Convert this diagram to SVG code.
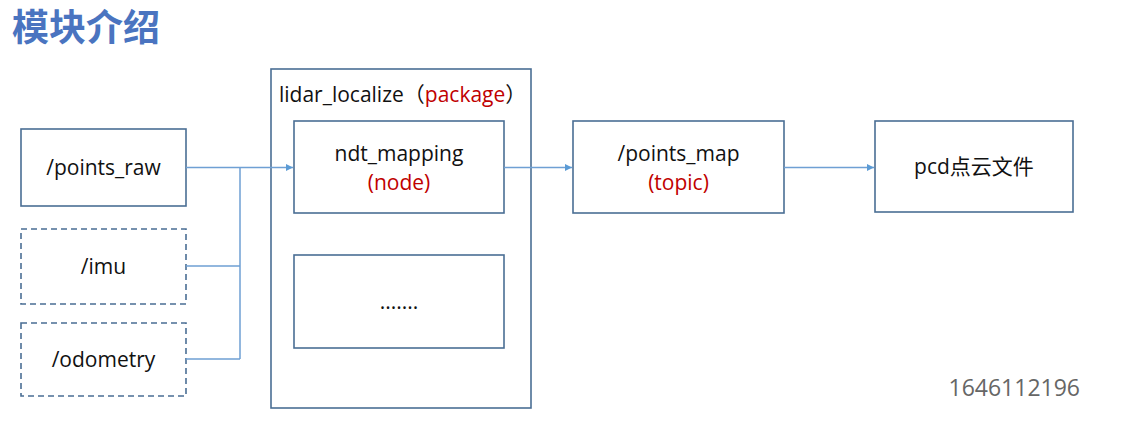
<svg xmlns="http://www.w3.org/2000/svg" width="1140" height="447" viewBox="0 0 1140 447">
<style>
.box{fill:#fff;stroke:#4a6e94;stroke-width:1.6}
.dash{fill:#fff;stroke:#4a6e94;stroke-width:1.6;stroke-dasharray:6 4}
.t{font-family:"Open Sans","Noto Sans CJK SC",sans-serif;font-size:21px;fill:#111;text-anchor:middle}
.r{fill:#c00000}
.c{stroke:#6fa0d4;stroke-width:1.5;fill:none}
</style>
<defs>
<marker id="ah" viewBox="0 0 10 10" refX="10" refY="5" markerWidth="7" markerHeight="7" markerUnits="userSpaceOnUse" orient="auto">
<path d="M0,0 L10,5 L0,10 z" fill="#5b9bd5"/>
</marker>
</defs>
<rect width="1140" height="447" fill="#fff"/>
<text x="12" y="41" style="font-family:'Noto Sans CJK SC',sans-serif;font-size:37px;font-weight:bold;fill:#4a74c0">模块介绍</text>
<g id="pkg">
<rect class="box" x="271" y="69" width="260" height="339"/>
<text x="279" y="102" style="font-family:'Open Sans','Noto Sans CJK SC',sans-serif;font-size:21px;fill:#111">lidar_localize（<tspan class="r">package</tspan>）</text>
</g>
<g id="points_raw">
<rect class="box" x="21" y="129" width="165" height="77"/>
<text class="t" x="103.5" y="175">/points_raw</text>
</g>
<g id="imu">
<rect class="dash" x="21" y="229" width="165" height="75"/>
<text class="t" x="103.5" y="274">/imu</text>
</g>
<g id="odometry">
<rect class="dash" x="21" y="323" width="165" height="73"/>
<text class="t" x="103.5" y="367">/odometry</text>
</g>
<g id="ndt_mapping">
<rect class="box" x="294" y="121" width="210" height="92"/>
<text class="t" x="399" y="161">ndt_mapping</text>
<text class="t r" x="399" y="190">(node)</text>
</g>
<g id="other">
<rect class="box" x="294" y="255" width="210" height="93"/>
<text class="t" x="399" y="309">.......</text>
</g>
<g id="points_map">
<rect class="box" x="573" y="121" width="211" height="92"/>
<text class="t" x="678.5" y="161">/points_map</text>
<text class="t r" x="678.5" y="190">(topic)</text>
</g>
<g id="pcd">
<rect class="box" x="875" y="121" width="198" height="91"/>
<text class="t" x="974" y="174">pcd点云文件</text>
</g>
<g id="connectors">
<path class="c" d="M186,167.5 H293" marker-end="url(#ah)"/>
<path class="c" d="M186,266 H240 M186,359 H240 M240,167.5 V359"/>
<path class="c" d="M504,167.5 H572" marker-end="url(#ah)"/>
<path class="c" d="M784,167.5 H874" marker-end="url(#ah)"/>
</g>
<text x="1080" y="396" style="font-family:'Open Sans',sans-serif;font-size:23px;fill:#666;text-anchor:end">1646112196</text>
</svg>
